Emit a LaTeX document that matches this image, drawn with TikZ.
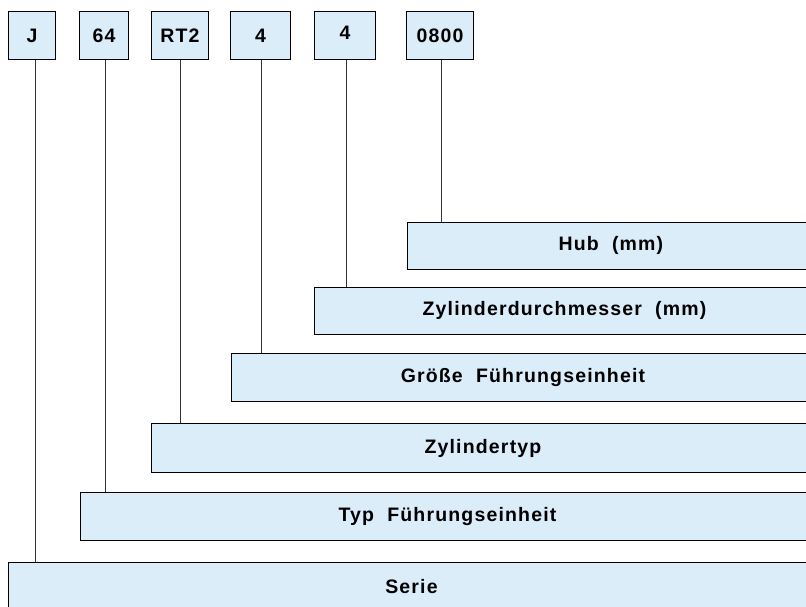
\documentclass[tikz,border=0pt]{standalone}
\usepackage{fontspec}
\setmainfont{Liberation Sans}
\newfontfamily\lblfont[LetterSpace=6]{Liberation Sans}
\definecolor{boxfill}{RGB}{220,237,250}
\definecolor{linegray}{RGB}{50,50,50}
\tikzset{
  codebox/.style={draw=black, line width=0.9pt, fill=boxfill, inner sep=0pt,
    font=\lblfont\fontsize{19.5}{22}\selectfont\bfseries, anchor=north west},
  descbox/.style={draw=black, line width=0.9pt, fill=boxfill, inner sep=0pt,
    font=\lblfont\fontsize{19.5}{22}\selectfont\bfseries, anchor=north west},
  leader/.style={draw=linegray, line width=1pt}
}
\begin{document}
\begin{tikzpicture}[x=1pt,y=-1pt]
\useasboundingbox (0,0) rectangle (806,606);
\begin{scope}
\clip (0,0) rectangle (806,606);
% top code boxes
\node[codebox, minimum width=47, minimum height=48] (J) at (8,11) {J};
\node[codebox, minimum width=49, minimum height=48] (c64) at (79,11) {64};
\node[codebox, minimum width=57, minimum height=48] (rt) at (151,11) {RT2};
\node[codebox, minimum width=60, minimum height=48] (fa) at (230,11) {4};
\node[codebox, minimum width=61, minimum height=48] (fb) at (314,11) {\raisebox{5pt}{4}};
\node[codebox, minimum width=67, minimum height=48] (hb) at (406,11) {0800};
% description boxes
\node[descbox, minimum width=407, minimum height=47] (hub) at (407,222) {Hub\ \ (mm)};
\node[descbox, minimum width=500, minimum height=47] (zyl) at (314,287) {Zylinderdurchmesser\ \ (mm)};
\node[descbox, minimum width=583, minimum height=48] (gro) at (231,353) {Größe\ \ Führungseinheit};
\node[descbox, minimum width=663, minimum height=49] (typ) at (151,423) {Zylindertyp};
\node[descbox, minimum width=734, minimum height=48] (tfe) at (80,492) {Typ\ \ Führungseinheit};
\node[descbox, minimum width=806, minimum height=48] (ser) at (8,562) {Serie};
% leaders
\coordinate (lJ) at ([xshift=3.5]J.south);
\coordinate (l64) at ([xshift=1.5]c64.south);
\coordinate (lrt) at ([xshift=0.5]rt.south);
\coordinate (lfa) at ([xshift=1]fa.south);
\coordinate (lfb) at ([xshift=1.5]fb.south);
\coordinate (lhb) at ([xshift=1.5]hb.south);
\draw[leader] (lJ) -- (lJ |- ser.north);
\draw[leader] (l64) -- (l64 |- tfe.north);
\draw[leader] (lrt) -- (lrt |- typ.north);
\draw[leader] (lfa) -- (lfa |- gro.north);
\draw[leader] (lfb) -- (lfb |- zyl.north);
\draw[leader] (lhb) -- (lhb |- hub.north);
\end{scope}
\end{tikzpicture}
\end{document}
